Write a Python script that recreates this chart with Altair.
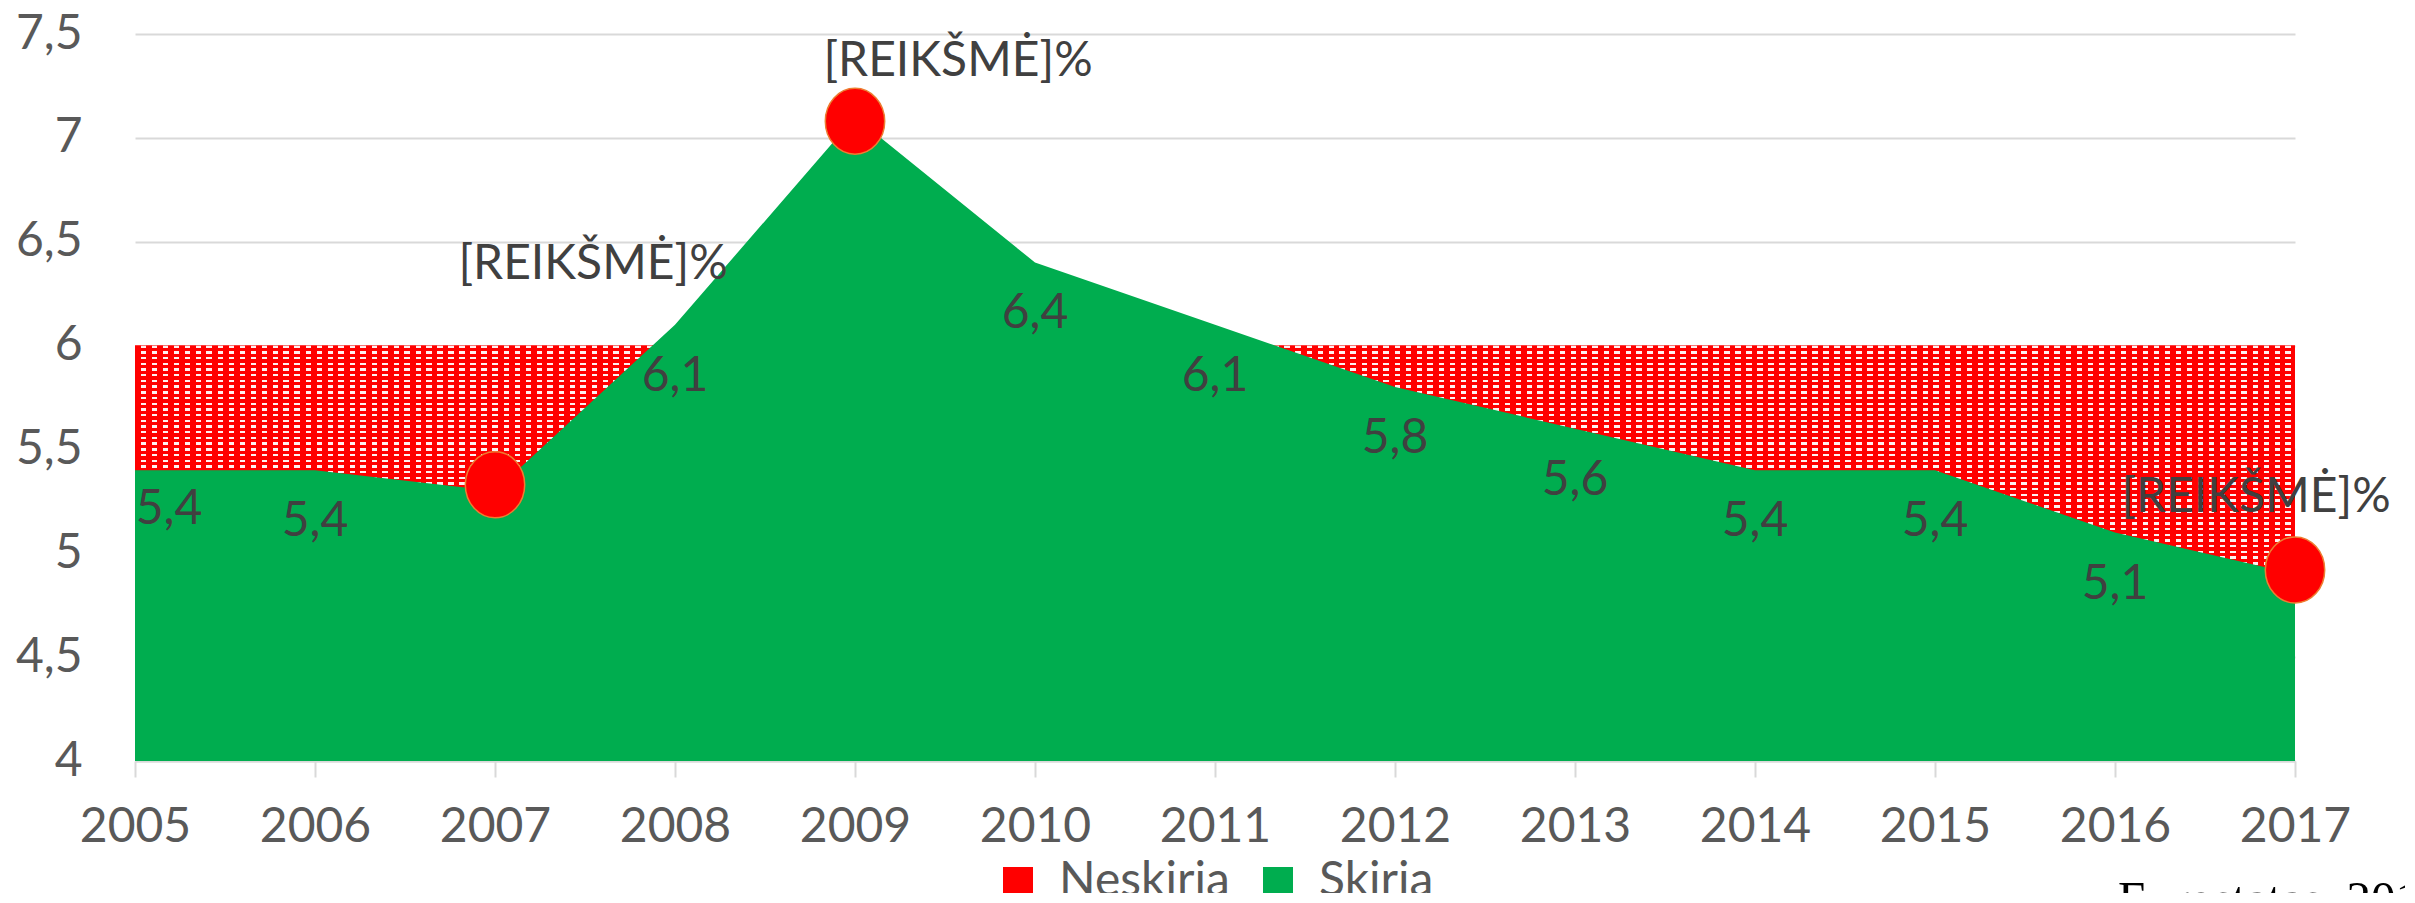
import altair as alt
import pandas as pd

# ---- data ----
years = [2005, 2006, 2007, 2008, 2009, 2010, 2011, 2012, 2013, 2014, 2015, 2016, 2017]
skiria = [5.4, 5.4, 5.3, 6.1, 7.1, 6.4, 6.1, 5.8, 5.6, 5.4, 5.4, 5.1, 4.9]
neskiria = [6, 6, 6, 6, 6, 6, 6, 6, 6, 6, 6, 6, 6]
marked_years = [2007, 2009, 2017]
marked_values = [5.33, 7.08, 4.92]
marked_label = "[REIKŠMĖ]%"
series_names = ["Neskiria", "Skiria"]
y_ticks = [4, 4.5, 5, 5.5, 6, 6.5, 7, 7.5]
source_note = ["Eurostatas, 2018"]

FONT = "Lato"
GREEN = "#00AD4F"
RED = "#FF0000"

def fmt(v):
    return f"{v:.1f}".replace(".", ",")

df_sk = pd.DataFrame({"year": years, "v": skiria, "series": series_names[1],
                      "lab": [fmt(v) for v in skiria]})
df_ne = pd.DataFrame({"year": years, "v": neskiria, "series": series_names[0]})
df_mk = pd.DataFrame({"year": marked_years, "v": marked_values, "lab": marked_label})
df_src = pd.DataFrame({"t": source_note})

W, H = 2160, 727

X = alt.X("year:Q", scale=alt.Scale(domain=[2005, 2017], nice=False, zero=False),
          axis=alt.Axis(values=years, format="d", title=None, grid=False,
                        domainColor="#D9D9D9", domainWidth=2,
                        tickColor="#D9D9D9", tickWidth=2, tickSize=16,
                        labelPadding=26, labelFont=FONT, labelFontSize=48,
                        labelColor="#595959", labelOverlap=False, labelFlush=False))
Y = alt.Y("v:Q", scale=alt.Scale(domain=[4, 7.5], nice=False, zero=False),
          axis=alt.Axis(values=y_ticks, title=None, domain=False, ticks=False,
                        grid=True, gridColor="#D9D9D9", gridWidth=2,
                        labelPadding=53, labelFont=FONT, labelFontSize=48,
                        labelColor="#595959",
                        labelExpr="replace(format(datum.value, '.1~f'), '.', ',')"))

color = alt.Color("series:N",
                  scale=alt.Scale(domain=series_names, range=[RED, GREEN]),
                  legend=alt.Legend(orient="none", legendX=859, legendY=824,
                                    direction="horizontal", title=None,
                                    symbolType="square", symbolSize=900,
                                    symbolStrokeWidth=0, symbolOpacity=1,
                                    labelFont=FONT, labelFontSize=48,
                                    labelColor="#595959", labelOffset=17,
                                    labelLimit=500, columnPadding=24))

# dotted texture of the "Neskiria" fill (style only)
def stripe_stops(total, period, on, on_color, off_color):
    stops = []
    k = 0
    while True:
        s = k * period / total
        if s >= 1:
            break
        e = min(1.0, (k * period + on) / total)
        stops += [{"offset": s, "color": off_color}, {"offset": s, "color": on_color},
                  {"offset": e, "color": on_color}, {"offset": e, "color": off_color}]
        k += 1
    return stops

red_h = H * 2 / 3.5
rows_grad = alt.LinearGradient(gradient="linear", x1=0, y1=0, x2=0, y2=1,
                               stops=stripe_stops(red_h, 5.7, 2.4, "#FFF0F0", "rgba(255,255,255,0)"))
cols_grad = alt.LinearGradient(gradient="linear", x1=0, y1=0, x2=1, y2=0,
                               stops=stripe_stops(W, 11, 5.5, RED, "rgba(255,0,0,0)"))

base_ne = alt.Chart(df_ne)
red_area = base_ne.mark_area(opacity=1).encode(x=X, y=Y, y2=alt.datum(4), color=color)
red_rows = base_ne.mark_area(fill=rows_grad, opacity=1).encode(x=X, y=Y, y2=alt.datum(4))
red_cols = base_ne.mark_area(fill=cols_grad, opacity=1).encode(x=X, y=Y, y2=alt.datum(4))

base_sk = alt.Chart(df_sk)
green_area = base_sk.mark_area(opacity=1).encode(x=X, y=Y, y2=alt.datum(4), color=color)

lab_style = dict(font=FONT, fontSize=48, color="#404040")
green_labels = base_sk.mark_text(baseline="middle", dy=52, **lab_style).encode(
    x=X, y=Y, text="lab:N").transform_filter(
    "datum.year != 2005 && datum.year != 2007 && datum.year != 2009 && datum.year != 2017")
first_label = base_sk.mark_text(baseline="middle", dy=40, dx=34, **lab_style).encode(
    x=X, y=Y, text="lab:N").transform_filter("datum.year == 2005")

ellipse = "M -0.9 0 A 0.9 1 0 1 0 0.9 0 A 0.9 1 0 1 0 -0.9 0 Z"
base_mk = alt.Chart(df_mk)
circles = base_mk.mark_point(shape=ellipse, size=4356, filled=True, fill=RED,
                             stroke="#ED7D31", strokeWidth=1.5, opacity=1).encode(x=X, y=Y)

mk_offsets = {2007: (98, -220), 2009: (103, -59), 2017: (-39, -72)}
mk_labels = [
    base_mk.mark_text(baseline="middle", dx=dx, dy=dy, **lab_style).encode(
        x=X, y=Y, text="lab:N").transform_filter(f"datum.year == {yr}")
    for yr, (dx, dy) in mk_offsets.items()
]

src = alt.Chart(df_src).mark_text(align="left", baseline="alphabetic",
                                  font="Liberation Serif", fontSize=49,
                                  color="#000000").encode(
    x=alt.value(1983), y=alt.value(881), text="t:N")

chart = alt.layer(red_area, red_rows, red_cols, green_area, green_labels, first_label,
                  circles, *mk_labels, src).properties(
    width=W, height=H,
    autosize=alt.AutoSizeParams(type="none"),
    padding={"left": 127, "top": 26, "right": 110, "bottom": 132},
).configure_view(stroke=None)

chart.save("out.html", embed_options={"renderer": "svg", "actions": False})
